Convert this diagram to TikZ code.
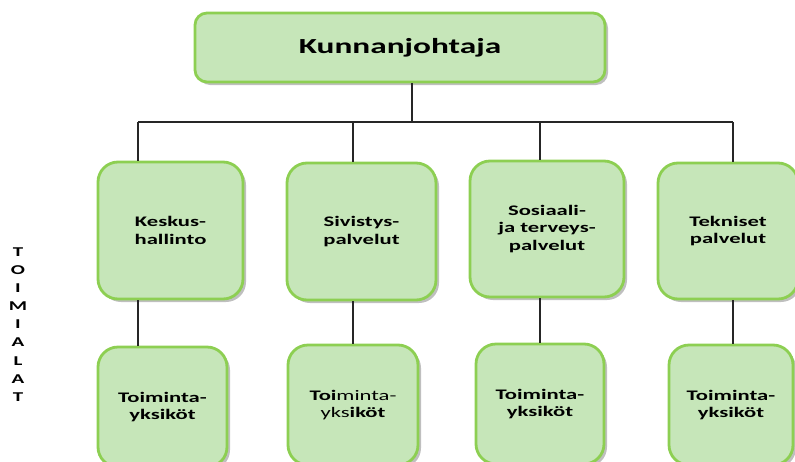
\documentclass[tikz,border=0pt]{standalone}
\usepackage{fontspec}
\setmainfont{Carlito}[FakeStretch=1.55]
\usetikzlibrary{shadows}
\definecolor{boxfill}{HTML}{C6E6B9}
\definecolor{boxline}{HTML}{8DCF52}
\begin{document}
\begin{tikzpicture}[x=1pt,y=-1pt,
  orgbox/.style={draw=boxline, line width=2.8pt, fill=boxfill, rounded corners=20pt,
    align=center, inner sep=0pt, font=\bfseries\fontsize{14.6}{17.8}\selectfont,
    drop shadow={shadow xshift=3pt, shadow yshift=-3pt, fill=black!50, opacity=0.5}},
  conn/.style={line width=1.2pt, draw=black!85}]
\useasboundingbox (0,0) rectangle (795,461);

% top
\node[orgbox, rounded corners=12pt, minimum width=410pt, minimum height=69pt,
  font=\bfseries\fontsize{21.5}{25}\selectfont] (top) at (400,47.5) {Kunnanjohtaja};

% level 2
\node[orgbox, minimum width=145pt, minimum height=137pt] (k1) at (170.5,230.5) {Keskus-\\hallinto};
\node[orgbox, minimum width=149pt, minimum height=137pt] (k2) at (361.5,231.5) {Sivistys-\\palvelut};
\node[orgbox, minimum width=154pt, minimum height=136pt] (k3) at (547,229) {Sosiaali-\\ja terveys-\\palvelut};
\node[orgbox, minimum width=140pt, minimum height=136pt] (k4) at (728,231) {Tekniset\\palvelut};

% level 3
\node[orgbox, minimum width=129pt, minimum height=120pt] (t1) at (162.5,407) {Toiminta-\\yksiköt};
\node[orgbox, minimum width=130pt, minimum height=120pt] (t2) at (353,405) {\textbf{Toi}{\mdseries minta-}\\{\mdseries yks}\textbf{iköt}};
\node[orgbox, minimum width=128pt, minimum height=120pt] (t3) at (540,404) {Toiminta-\\yksiköt};
\node[orgbox, minimum width=124pt, minimum height=120pt] (t4) at (731,405) {Toiminta-\\yksiköt};

% side label
\node[align=center, inner sep=0pt, font=\bfseries\fontsize{13.5}{18.1}\selectfont] (side) at (18,324.5)
  {T\\O\\I\\M\\I\\A\\L\\A\\T};

% connectors
\coordinate (j) at (412,122);
\coordinate (b1) at (138,122);
\coordinate (b2) at (353,122);
\coordinate (b3) at (540,122);
\coordinate (b4) at (733,122);
\draw[conn] (top.south -| j) -- (j);
\draw[conn] (b1) -- (b4);
\draw[conn] (b1) -- (b1 |- k1.north);
\draw[conn] (b2) -- (b2 |- k2.north);
\draw[conn] (b3) -- (b3 |- k3.north);
\draw[conn] (b4) -- (b4 |- k4.north);
\draw[conn] (k1.south -| b1) -- (t1.north -| b1);
\draw[conn] (k2.south -| b2) -- (t2.north -| b2);
\draw[conn] (k3.south -| b3) -- (t3.north -| b3);
\draw[conn] (k4.south -| b4) -- (t4.north -| b4);
\end{tikzpicture}
\end{document}
